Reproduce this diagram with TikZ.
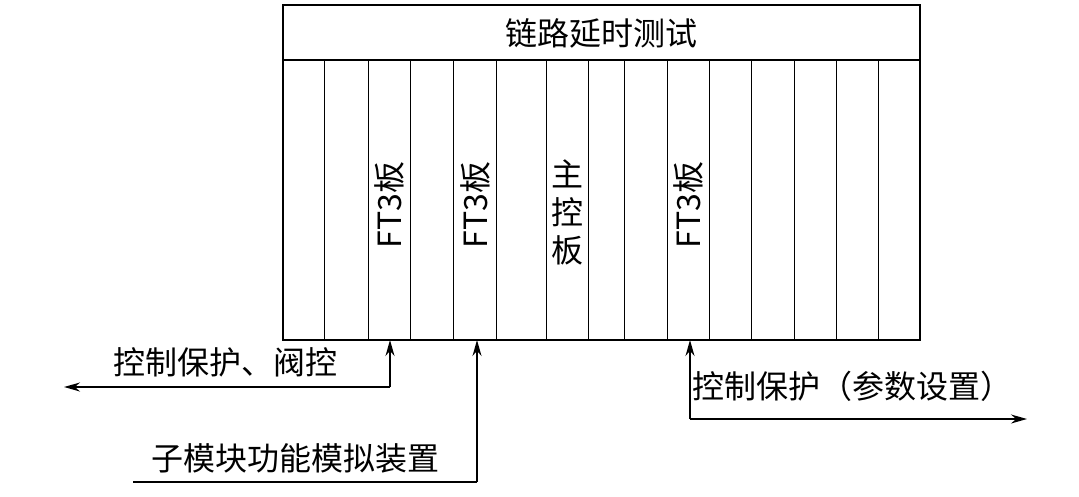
\documentclass[tikz,border=0pt]{standalone}
\usepackage{fontspec}
\setmainfont{Liberation Serif}
\newfontfamily\cjk{Noto Sans CJK SC}
\usetikzlibrary{arrows.meta,positioning}
\begin{document}
\begin{tikzpicture}[x=1pt,y=-1pt,line width=1.6pt,
    lbl/.style={font=\fontsize{32}{36}\selectfont\cjk},
    sig/.style={-{Stealth[length=16pt,width=9pt]}}]
  \useasboundingbox (0,0) rectangle (1079,496);
  % rack
  \draw (283,5) rectangle (920,340);
  \draw (283,60) -- (920,60);
  \node[lbl] (title) at (601,33) {链路延时测试};
  \foreach \x in {324,368,410,453,496,546,588,624,667,709,751,794,836,878}
    \draw[line width=1pt] (\x,60) -- (\x,340);
  % boards
  \node[lbl,rotate=90] (ftA) at (389,205) {FT3板};
  \node[lbl,rotate=90] (ftB) at (475,205) {FT3板};
  \node[lbl,align=center,font=\fontsize{32}{38}\selectfont\cjk] (main) at (567,212) {主\\控\\板};
  \node[lbl,rotate=90] (ftC) at (688,205) {FT3板};
  % links
  \coordinate (inA) at (390,340);
  \coordinate (inB) at (477,340);
  \coordinate (inC) at (690,340);
  \draw[sig] (390,387) -- (inA);
  \draw[sig] (390,387) -- (64,387);
  \node[lbl] (ctrl) at (225,362) {控制保护、阀控};
  \draw[sig] (477,482) -- (inB);
  \draw (477,482) -- (133,482);
  \node[lbl] (sub) at (295,458) {子模块功能模拟装置};
  \draw[sig] (690,419) -- (inC);
  \draw[sig] (690,419) -- (1027,419);
  \node[lbl] (para) at (852,386) {控制保护（参数设置）};
\end{tikzpicture}
\end{document}
